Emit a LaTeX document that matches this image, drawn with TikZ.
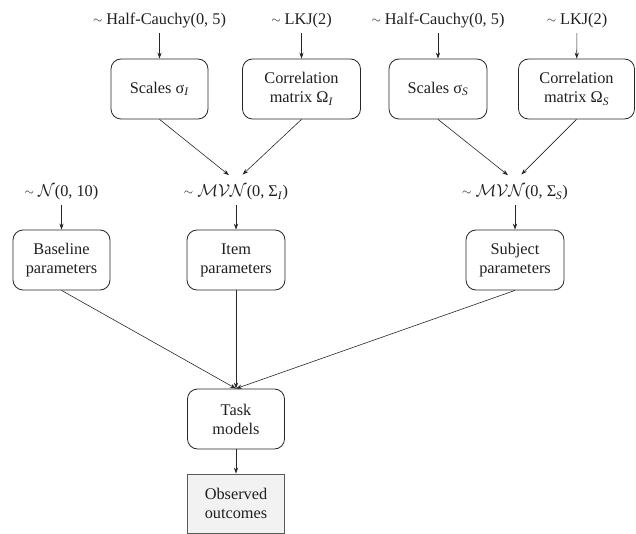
\documentclass[tikz,border=0pt]{standalone}
\usepackage{fontspec}
\setmainfont{Liberation Serif}
\usetikzlibrary{arrows.meta}
\newcommand{\dist}{\raisebox{1.2pt}{\fontsize{12}{12}\selectfont$\sim$}}
\begin{document}
\begin{tikzpicture}[x=1pt,y=-1pt,
  font=\fontsize{16.3}{19}\selectfont,
  every node/.style={text=black!88},
  box/.style={draw=black!85, line width=0.8pt, rounded corners=10pt, align=center,
    minimum height=60pt, inner sep=2pt},
  lab/.style={text height=12pt, text depth=4pt, inner sep=4pt},
  arr/.style={-{Stealth[length=6pt,width=4.2pt]}, line width=0.6pt, draw=black!85}]
\useasboundingbox (0,0) rectangle (636,534);
% top priors
\node[lab, anchor=base] (hc1) at (159.5,25) {\dist{} Half-Cauchy(0, 5)};
\node[lab, anchor=base] (lkj1) at (301.5,25) {\dist{} LKJ(2)};
\node[lab, anchor=base] (hc2) at (438,25) {\dist{} Half-Cauchy(0, 5)};
\node[lab, anchor=base] (lkj2) at (577,25) {\dist{} LKJ(2)};
% top boxes
\node[box, minimum width=97pt] (sigI) at (159.5,89) {Scales σ\textsubscript{\textit{I}}};
\node[box, minimum width=118pt] (omI) at (301.5,89) {Correlation\\matrix Ω\textsubscript{\textit{I}}};
\node[box, minimum width=98pt] (sigS) at (438,89) {Scales σ\textsubscript{\textit{S}}};
\node[box, minimum width=116pt] (omS) at (576.5,89) {Correlation\\matrix Ω\textsubscript{\textit{S}}};
% middle priors
\node[lab, anchor=base] (nrm) at (61.5,197) {\dist{} $\mathcal{N}$(0, 10)};
\node[lab, anchor=base] (mvnI) at (236,197) {\dist{} $\mathcal{MVN}$(0, Σ\textsubscript{\textit{I}})};
\node[lab, anchor=base] (mvnS) at (515,197) {\dist{} $\mathcal{MVN}$(0, Σ\textsubscript{\textit{S}})};
% parameter boxes
\node[box, minimum width=97pt] (base) at (61.5,260) {Baseline\\parameters};
\node[box, minimum width=98pt] (item) at (236,260) {Item\\parameters};
\node[box, minimum width=98pt] (subj) at (515,260) {Subject\\parameters};
% task and outcomes
\node[box, minimum width=97pt] (task) at (236,419) {Task\\models};
\node[draw=black!65, fill=black!5, line width=0.8pt, align=center, minimum width=97pt,
  minimum height=59pt, inner sep=2pt] (obs) at (236,503.5) {Observed\\outcomes};
% connectors
\draw[arr] (hc1) -- (sigI);
\draw[arr] (lkj1) -- (omI);
\draw[arr] (hc2) -- (sigS);
\draw[arr] (lkj2) -- (omS);
\draw[arr, shorten >=9pt] (sigI.south) -- (mvnI.north);
\draw[arr, shorten >=9pt] (omI.south) -- (mvnI.north);
\draw[arr, shorten >=9pt] (sigS.south) -- (mvnS.north);
\draw[arr, shorten >=9pt] (omS.south) -- (mvnS.north);
\draw[arr] (nrm) -- (base);
\draw[arr] (mvnI) -- (item);
\draw[arr] (mvnS) -- (subj);
\draw[arr] (base.south) -- (task.north);
\draw[arr] (item.south) -- (task.north);
\draw[arr] (subj.south) -- (task.north);
\draw[arr] (task) -- (obs);
\end{tikzpicture}
\end{document}
